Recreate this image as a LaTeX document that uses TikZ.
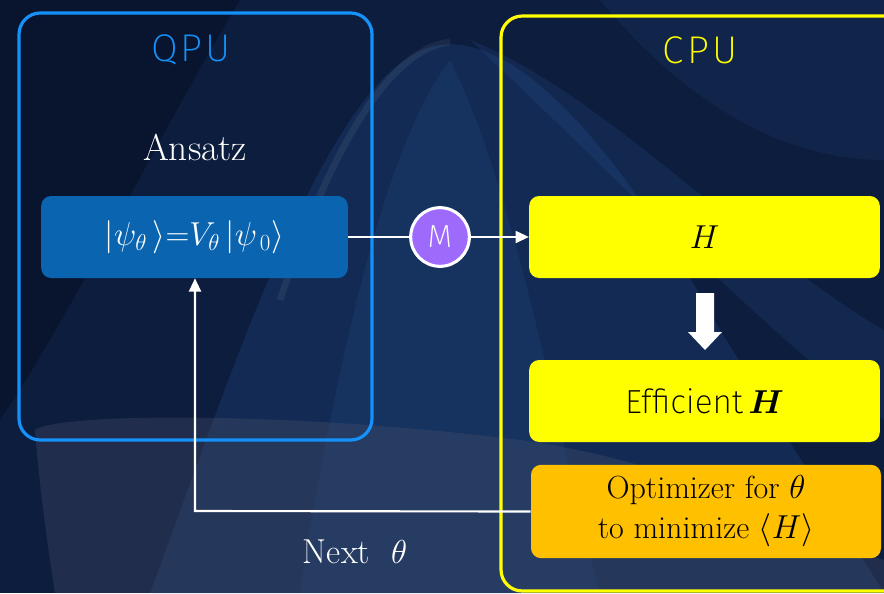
\documentclass[tikz,border=0pt]{standalone}
\usepackage{amsmath}
\usepackage{fontspec}
\newfontfamily\thin{Fira Sans ExtraLight}
\newfontfamily\thinwide{Fira Sans ExtraLight}[LetterSpace=8]
\usetikzlibrary{arrows.meta}
\definecolor{bgbase}{RGB}{13,29,62}
\definecolor{bgwave}{RGB}{40,85,150}
\definecolor{bggray}{RGB}{80,85,110}
\definecolor{qpublue}{RGB}{20,145,250}
\definecolor{cpuyellow}{RGB}{255,255,0}
\definecolor{ansatzfill}{RGB}{10,100,175}
\definecolor{mpurple}{RGB}{158,106,252}
\definecolor{optorange}{RGB}{255,192,0}
\tikzset{
  panel/.style={line width=2.4pt, rounded corners=16pt},
  boxstyle/.style={rectangle, rounded corners=7.5pt, minimum width=263pt, minimum height=61.5pt, inner sep=0pt, align=center},
  conn/.style={draw=white, line width=1.6pt},
  tip/.style={-{Triangle[length=10pt,width=9pt]}},
  title/.style={font=\thinwide\fontsize{29}{31}\selectfont},
}
\begin{document}
\begin{tikzpicture}[x=0.75pt,y=-0.75pt]
\useasboundingbox (0,0) rectangle (884,593);
\begin{scope}
\clip (0,0) rectangle (884,593);
% background
\fill[bgbase] (0,0) rectangle (884,593);
\fill[bgwave, opacity=0.25] (150,593) .. controls (230,380) and (330,60) .. (440,45) .. controls (520,35) and (620,150) .. (720,330) -- (884,593) -- cycle;
\fill[bgwave, opacity=0.18] (300,593) .. controls (330,400) and (380,150) .. (450,60) .. controls (520,200) and (560,450) .. (600,593) -- cycle;
\draw[white, opacity=0.06, line width=5pt] (280,300) .. controls (320,180) and (380,50) .. (450,42);
\fill[bgwave, opacity=0.2] (470,40) .. controls (600,90) and (760,260) .. (884,330) -- (884,420) .. controls (760,330) and (600,160) .. (470,40) -- cycle;
\fill[bgwave, opacity=0.15] (600,0) .. controls (700,120) and (800,160) .. (884,160) -- (884,0) -- cycle;
\fill[bggray, opacity=0.3] (35,430) .. controls (60,412) and (300,412) .. (520,440) .. controls (700,465) and (820,540) .. (884,560) -- (884,593) -- (55,593) .. controls (45,530) and (38,470) .. (35,430) -- cycle;
\fill[black, opacity=0.25] (0,0) -- (240,0) .. controls (150,150) and (80,300) .. (0,420) -- cycle;
% CPU panel
\draw[cpuyellow, panel] (501,16) rectangle (930,591);
\end{scope}
% QPU panel
\draw[qpublue, panel] (19,13) rectangle (372,440);
\node[title, text=qpublue] (qpu) at (191,50) {QPU};
\node[title, text=cpuyellow] (cpu) at (700,50) {CPU};
\node[text=white, font=\fontsize{28}{32}\selectfont] (ansatzlbl) at (195,147) {Ansatz};
\node[boxstyle, fill=ansatzfill, minimum width=230pt, text=white, font=\fontsize{27}{30}\selectfont] (ansatz) at (194.5,237) {$|\psi_\theta\,\rangle{=}V_\theta\,|\psi_{\,0}\rangle$};
\node[circle, fill=mpurple, draw=white, line width=2.3pt, minimum size=44pt, inner sep=0pt, text=white, font=\thin\fontsize{24}{26}\selectfont] (m) at (440,237) {M};
\node[boxstyle, fill=cpuyellow, font=\fontsize{26}{28}\selectfont] (h) at (704.5,237) {$H$};
\node[boxstyle, fill=cpuyellow, font=\fontsize{25}{28}\selectfont] (eff) at (704.5,401) {{\thin Efficient}\,$\boldsymbol{H}$};
\node[boxstyle, fill=optorange, minimum width=262.5pt, minimum height=70pt, font=\fontsize{24}{30}\selectfont] (opt) at (706,511.5) {Optimizer for $\theta$\\to minimize $\langle H\rangle$};
\node[text=white, font=\fontsize{26}{30}\selectfont] (next) at (355,552) {Next\ \ $\theta$};
% connectors
\draw[conn] (ansatz.east) -- (m.west);
\draw[conn, tip] (m.east) -- (h.west);
\coordinate (corner) at (195,511);
\draw[conn, tip] (opt.west) -- (corner) -- (ansatz.south -| corner);
% block arrow
\fill[white] (696,293) -- (714,293) -- (714,332) -- (722,332) -- (705,350) -- (688,332) -- (696,332) -- cycle;
\end{tikzpicture}
\end{document}
